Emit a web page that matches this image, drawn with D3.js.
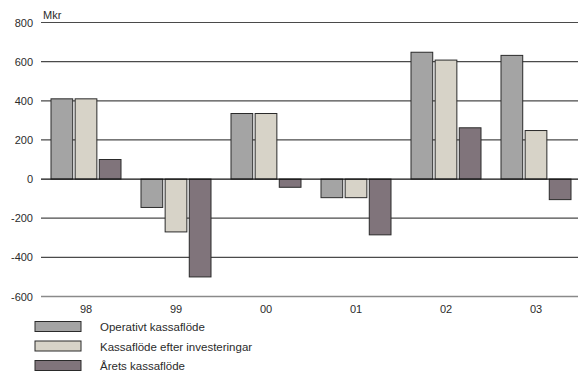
<!DOCTYPE html>
<html>
<head>
<meta charset="utf-8">
<script src="https://cdn.jsdelivr.net/npm/d3@7"></script>
<style>
  html, body { margin: 0; padding: 0; background: #fff; }
  svg text { font-family: "Liberation Sans", Arial, sans-serif; fill: #2b2b2b; }
</style>
</head>
<body>
<svg id="chart" width="578" height="371"></svg>
<script>
// Cash flow per year (Mkr)
const years = ["98", "99", "00", "01", "02", "03"];
const seriesNames = ["Operativt kassaflöde", "Kassaflöde efter investeringar", "Årets kassaflöde"];
const operativt = [410, -145, 335, -95, 648, 632];
const efterInvesteringar = [410, -270, 335, -95, 608, 248];
const aretsKassaflode = [100, -500, -42, -285, 262, -105];
const yTicks = [800, 600, 400, 200, 0, -200, -400, -600];
const colors = ["#a4a4a4", "#d7d3c8", "#80747b"];

const series = [operativt, efterInvesteringar, aretsKassaflode];

const svg = d3.select("#chart");
const margin = { left: 41, right: -3, top: 22.5, bottom: 74.5 };
const W = 578, H = 371;

const x = d3.scaleBand().domain(years).range([margin.left, W - margin.right]).paddingInner(0).paddingOuter(0);
const xs = d3.scaleBand().domain(d3.range(series.length)).range([10, x.bandwidth() - 10]).paddingInner(0.1).paddingOuter(0);
const y = d3.scaleLinear().domain([-600, 800]).range([H - margin.bottom, margin.top]);

// gridlines
svg.append("g")
  .selectAll("line")
  .data(yTicks.filter(d => d !== 0 && d !== -600))
  .join("line")
  .attr("x1", margin.left).attr("x2", W)
  .attr("y1", d => y(d)).attr("y2", d => y(d))
  .attr("stroke", "#4a4a4a").attr("stroke-width", 1.2);

// bottom baseline
svg.append("line")
  .attr("x1", margin.left).attr("x2", W)
  .attr("y1", y(-600)).attr("y2", y(-600))
  .attr("stroke", "#8a8a8a").attr("stroke-width", 1.5);

// y tick labels
svg.append("g")
  .selectAll("text")
  .data(yTicks)
  .join("text")
  .attr("x", 33).attr("y", d => y(d) + 4)
  .attr("text-anchor", "end")
  .attr("font-size", 11)
  .text(d => d);

svg.append("text")
  .attr("x", 43).attr("y", 19)
  .attr("font-size", 11)
  .text("Mkr");

// bars
const groups = svg.append("g")
  .selectAll("g")
  .data(years)
  .join("g")
  .attr("transform", d => `translate(${x(d)},0)`);

groups.selectAll("rect")
  .data((d, i) => series.map((s, k) => ({ k, v: s[i] })))
  .join("rect")
  .attr("x", d => xs(d.k))
  .attr("width", xs.bandwidth())
  .attr("y", d => y(Math.max(0, d.v)))
  .attr("height", d => Math.abs(y(d.v) - y(0)))
  .attr("fill", d => colors[d.k])
  .attr("stroke", "#2a2a2a")
  .attr("stroke-width", 1);

// zero line
svg.append("line")
  .attr("x1", margin.left).attr("x2", W)
  .attr("y1", y(0)).attr("y2", y(0))
  .attr("stroke", "#111").attr("stroke-width", 1.2);

// category labels
svg.append("g")
  .selectAll("text")
  .data(years)
  .join("text")
  .attr("x", d => x(d) + x.bandwidth() / 2)
  .attr("y", y(-600) + 16)
  .attr("text-anchor", "middle")
  .attr("font-size", 11)
  .text(d => d);

// legend
const legend = svg.append("g")
  .selectAll("g")
  .data(seriesNames)
  .join("g")
  .attr("transform", (d, i) => `translate(35,${321.5 + i * 19.5})`);

legend.append("rect")
  .attr("width", 46).attr("height", 10)
  .attr("fill", (d, i) => colors[i])
  .attr("stroke", "#2a2a2a").attr("stroke-width", 1);

legend.append("text")
  .attr("x", 65).attr("y", 9.5)
  .attr("font-size", 11.5)
  .text(d => d);
</script>
</body>
</html>
